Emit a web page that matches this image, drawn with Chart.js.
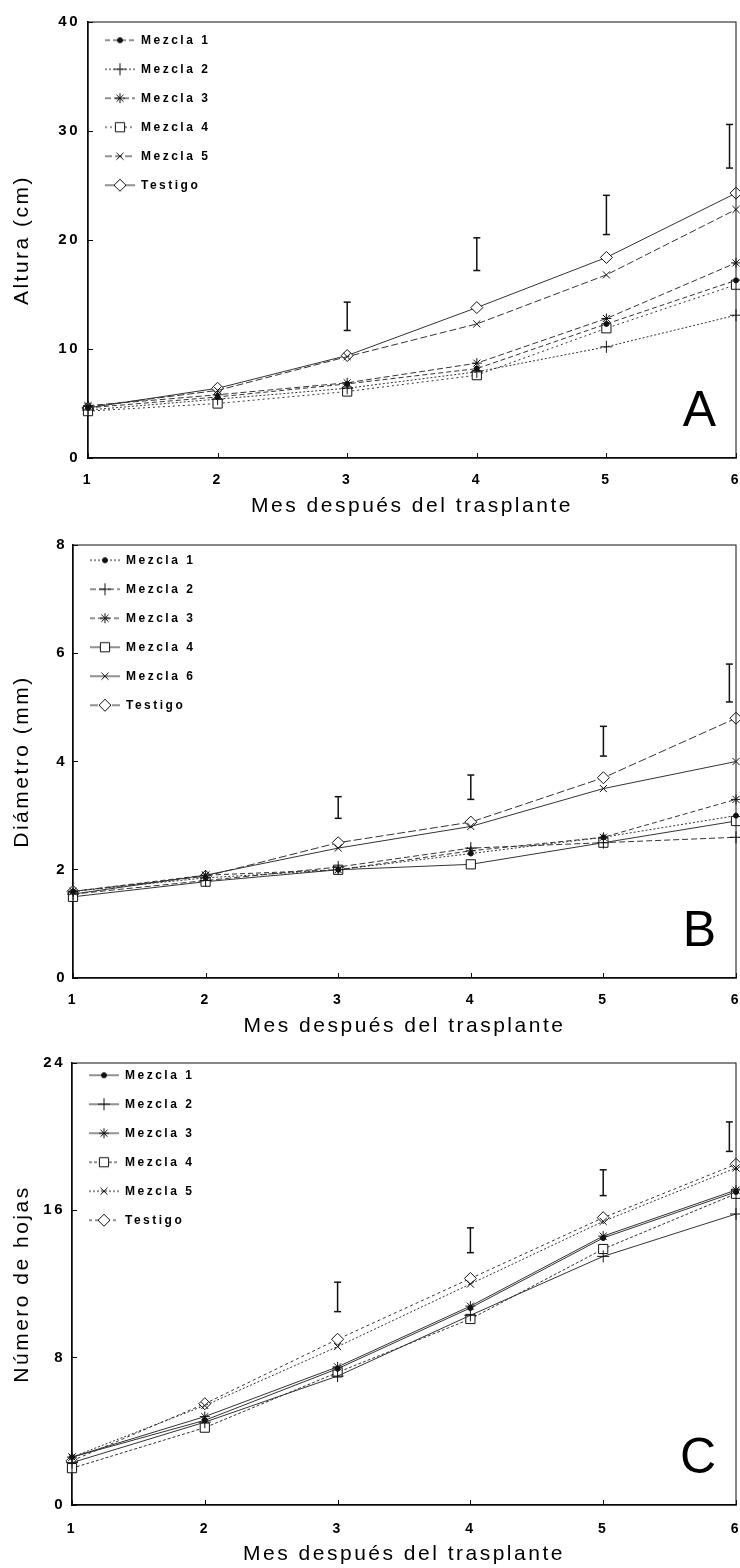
<!DOCTYPE html>
<html>
<head>
<meta charset="utf-8">
<script src="https://cdn.jsdelivr.net/npm/chart.js@4"></script>
<style>
  body { margin: 0; background: #fff; }
  canvas { display: block; }
</style>
</head>
<body>
<canvas id="chartA" width="740" height="520"></canvas>
<canvas id="chartB" width="740" height="520"></canvas>
<canvas id="chartC" width="740" height="528"></canvas>
<script>
// months after transplant (x axis)
const months = [1, 2, 3, 4, 5, 6]
// months where the LSD bars sit (last one is nudged inside the frame)
const barMonths = [3, 4, 5, 5.95]

// A - Altura (cm)
const namesA = ['Mezcla 1', 'Mezcla 2', 'Mezcla 3', 'Mezcla 4', 'Mezcla 5', 'Testigo']
const alturaM1 = [4.6, 5.6, 6.8, 8.2, 12.3, 16.3]
const alturaM2 = [4.4, 5.4, 6.4, 7.9, 10.2, 13.1]
const alturaM3 = [4.8, 5.8, 6.9, 8.7, 12.8, 17.9]
const alturaM4 = [4.3, 5.0, 6.1, 7.6, 11.9, 15.9]
const alturaM5 = [4.7, 6.2, 9.3, 12.3, 16.8, 22.8]
const alturaT = [4.6, 6.4, 9.4, 13.8, 18.4, 24.3]
const alturaBarLow = [11.7, 17.2, 20.5, 26.6]
const alturaBarHigh = [14.3, 20.2, 24.1, 30.6]
const alturaTicks = [0, 10, 20, 30, 40]

// B - Diametro (mm)
const namesB = ['Mezcla 1', 'Mezcla 2', 'Mezcla 3', 'Mezcla 4', 'Mezcla 6', 'Testigo']
const diamM1 = [1.6, 1.85, 2.0, 2.3, 2.6, 3.0]
const diamM2 = [1.55, 1.8, 2.05, 2.4, 2.5, 2.6]
const diamM3 = [1.6, 1.9, 2.0, 2.35, 2.6, 3.3]
const diamM4 = [1.5, 1.78, 2.0, 2.1, 2.5, 2.9]
const diamM5 = [1.55, 1.9, 2.4, 2.8, 3.5, 4.0]
const diamT = [1.6, 1.88, 2.5, 2.88, 3.7, 4.8]
const diamBarLow = [2.95, 3.3, 4.1, 5.1]
const diamBarHigh = [3.35, 3.75, 4.65, 5.8]
const diamTicks = [0, 2, 4, 6, 8]

// C - Numero de hojas
const namesC = ['Mezcla 1', 'Mezcla 2', 'Mezcla 3', 'Mezcla 4', 'Mezcla 5', 'Testigo']
const hojasM1 = [2.6, 4.6, 7.4, 10.7, 14.5, 17.0]
const hojasM2 = [2.3, 4.5, 7.0, 10.3, 13.5, 15.8]
const hojasM3 = [2.6, 4.8, 7.5, 10.8, 14.6, 17.1]
const hojasM4 = [2.0, 4.2, 7.2, 10.1, 13.9, 16.9]
const hojasM5 = [2.6, 5.4, 8.6, 12.0, 15.4, 18.3]
const hojasT = [2.4, 5.5, 9.0, 12.3, 15.6, 18.5]
const hojasBarLow = [10.5, 13.7, 16.8, 19.2]
const hojasBarHigh = [12.1, 15.05, 18.2, 20.8]
const hojasTicks = [0, 8, 16, 24]

const FONT = '"Liberation Sans", Arial, sans-serif'
Chart.defaults.font.family = FONT
Chart.defaults.color = '#000'

const markers = [
  { style: 'circle', radius: 2.5, fill: '#111' },
  { style: 'cross', radius: 6, fill: '#fff' },
  { style: 'star', radius: 5, fill: '#fff' },
  { style: 'rect', radius: 6.5, fill: '#fff' },
  { style: 'crossRot', radius: 5, fill: '#fff' },
  { style: 'rectRot', radius: 6, fill: '#fff' }
]

// small line + symbol picture used as legend key
function legendKey(spec, dash) {
  const c = document.createElement('canvas')
  c.width = 30
  c.height = 16
  const g = c.getContext('2d')
  g.strokeStyle = '#222'
  g.lineWidth = 1
  g.setLineDash(dash)
  g.beginPath()
  g.moveTo(0, 8)
  g.lineTo(30, 8)
  g.stroke()
  g.setLineDash([])
  g.fillStyle = spec.fill
  g.strokeStyle = '#111'
  Chart.helpers.drawPoint(g, { pointStyle: spec.style, radius: spec.radius, borderWidth: 1, rotation: 0 }, 15, 8)
  return c
}

// frame, inward x ticks, panel letter and the spaced-out lettering of the original
const paperLook = {
  id: 'paperLook',
  beforeUpdate(chart) { chart.ctx.letterSpacing = '2.5px' },
  beforeDraw(chart) { chart.ctx.letterSpacing = '2.5px' },
  afterDatasetsDraw(chart, args, opts) {
    const { ctx, chartArea: a } = chart
    const xs = chart.scales.x
    ctx.save()
    ctx.strokeStyle = '#111'
    ctx.lineWidth = 1
    ctx.strokeRect(a.left, a.top, a.right - a.left, a.bottom - a.top)
    ctx.beginPath()
    xs.ticks.forEach(t => {
      const px = Math.round(xs.getPixelForValue(t.value)) + 0.5
      ctx.moveTo(px, a.bottom)
      ctx.lineTo(px, a.bottom - 5)
    })
    ctx.stroke()
    ctx.letterSpacing = '0px'
    ctx.font = '50px ' + FONT
    ctx.fillStyle = '#000'
    ctx.textAlign = 'right'
    ctx.textBaseline = 'alphabetic'
    ctx.fillText(opts.letter, a.right - 20, a.bottom - 32)
    ctx.restore()
  }
}

function makeChart(id, p) {
  const sets = p.names.map((name, i) => ({
    label: name,
    data: p.values[i].map((v, j) => ({ x: months[j], y: v })),
    borderColor: '#333',
    borderWidth: 1,
    borderDash: p.dashes[i],
    pointStyle: markers[i].style,
    pointRadius: markers[i].radius,
    pointBackgroundColor: markers[i].fill,
    pointBorderColor: '#111',
    pointBorderWidth: 1,
    clip: false
  }))
  barMonths.forEach((m, k) => {
    sets.push({
      label: 'dms',
      data: [{ x: m, y: p.barLow[k] }, { x: m, y: p.barHigh[k] }],
      borderColor: '#111',
      borderWidth: 1.5,
      pointStyle: 'line',
      pointRadius: 3.5,
      pointBorderColor: '#111',
      pointBorderWidth: 1.5,
      clip: false
    })
  })
  const keys = p.names.map((n, i) => legendKey(markers[i], p.dashes[i]))

  return new Chart(document.getElementById(id), {
    type: 'line',
    data: { datasets: sets },
    plugins: [paperLook],
    options: {
      responsive: false,
      animation: false,
      layout: { autoPadding: false, padding: { top: p.padTop, right: 4, left: 0, bottom: 0 } },
      plugins: {
        paperLook: { letter: p.letter },
        tooltip: { enabled: false },
        legend: {
          position: 'chartArea',
          align: 'start',
          title: { display: true, text: '', padding: { top: p.legendTop, bottom: 0 }, font: { size: 1 } },
          labels: {
            usePointStyle: true,
            pointStyleWidth: 30,
            padding: 17,
            color: '#000',
            font: { size: 12, weight: 'bold' },
            generateLabels: () => p.names.map((n, i) => ({
              text: n, pointStyle: keys[i], datasetIndex: i, hidden: false,
              lineWidth: 0, fillStyle: '#000', strokeStyle: '#000', fontColor: '#000'
            }))
          }
        }
      },
      scales: {
        x: {
          type: 'linear',
          min: 1,
          max: 6,
          ticks: { stepSize: 1, padding: p.xPad, color: '#000', font: { size: 14, weight: 'bold' } },
          grid: { drawOnChartArea: false, drawTicks: true, tickLength: 25, color: 'rgba(0,0,0,0)' },
          border: { color: '#000', width: 1.5 },
          title: { display: true, text: 'Mes después del trasplante', color: '#000', font: { size: 21 }, padding: { top: 0, bottom: p.titlePad } },
          afterFit: s => { s.height = p.xHeight }
        },
        y: {
          type: 'linear',
          min: p.ticks[0],
          max: p.ticks[p.ticks.length - 1],
          afterBuildTicks: s => { s.ticks = p.ticks.map(v => ({ value: v })) },
          ticks: { padding: p.yPad, color: '#000', font: { size: 15, weight: 'bold' } },
          grid: { drawOnChartArea: false, drawTicks: true, tickLength: -5, color: '#000' },
          border: { color: '#000', width: 1.5 },
          title: { display: true, text: p.yTitle, color: '#000', font: { size: 21 }, padding: { top: 10, bottom: 0 } },
          afterFit: s => { s.width = p.yWidth }
        }
      }
    }
  })
}

makeChart('chartA', {
  letter: 'A', yTitle: 'Altura (cm)', names: namesA,
  values: [alturaM1, alturaM2, alturaM3, alturaM4, alturaM5, alturaT],
  barLow: alturaBarLow, barHigh: alturaBarHigh, ticks: alturaTicks,
  dashes: [[5, 3], [2, 2], [6, 3], [2, 3], [7, 3], []],
  padTop: 22, yWidth: 88, xHeight: 62, xPad: -11, yPad: 13, titlePad: 1, legendTop: 16
})

makeChart('chartB', {
  letter: 'B', yTitle: 'Diámetro (mm)', names: namesB,
  values: [diamM1, diamM2, diamM3, diamM4, diamM5, diamT],
  barLow: diamBarLow, barHigh: diamBarHigh, ticks: diamTicks,
  dashes: [[2, 2], [6, 3], [5, 3], [], [], [8, 3]],
  padTop: 25, yWidth: 73, xHeight: 62, xPad: -11, yPad: 11, titlePad: 1, legendTop: 16
})

makeChart('chartC', {
  letter: 'C', yTitle: 'Número de hojas', names: namesC,
  values: [hojasM1, hojasM2, hojasM3, hojasM4, hojasM5, hojasT],
  barLow: hojasBarLow, barHigh: hojasBarHigh, ticks: hojasTicks,
  dashes: [[], [], [], [3, 2], [2, 2], [3, 3]],
  padTop: 23, yWidth: 72, xHeight: 63, xPad: -9, yPad: 12, titlePad: 1, legendTop: 11
})
</script>
</body>
</html>
